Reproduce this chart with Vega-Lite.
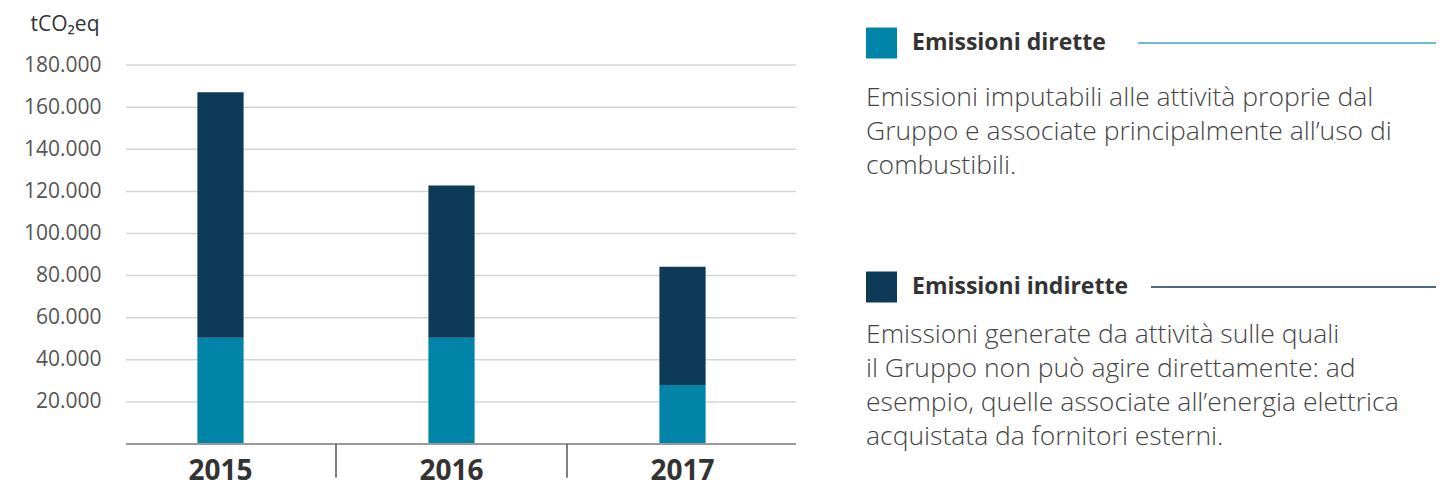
{
  "$schema": "https://vega.github.io/schema/vega-lite/v6.json",
  "padding": {"left": 23, "top": 13, "right": 0, "bottom": 0},
  "config": {
    "view": {"stroke": null},
    "font": "Open Sans",
    "text": {"font": "Open Sans"}
  },
  "datasets": {
    "bars": [
      {"year": "2015", "serie": "Emissioni dirette", "value": 50500},
      {"year": "2015", "serie": "Emissioni indirette", "value": 116600},
      {"year": "2016", "serie": "Emissioni dirette", "value": 50500},
      {"year": "2016", "serie": "Emissioni indirette", "value": 72300},
      {"year": "2017", "serie": "Emissioni dirette", "value": 28000},
      {"year": "2017", "serie": "Emissioni indirette", "value": 56200}
    ],
    "gridticks": [
      {"tick": 20000}, {"tick": 40000}, {"tick": 60000}, {"tick": 80000}, {"tick": 100000},
      {"tick": 120000}, {"tick": 140000}, {"tick": 160000}, {"tick": 180000}
    ],
    "legend": [
      {"serie": "Emissioni dirette", "desc": "Emissioni imputabili alle attività proprie dal\nGruppo e associate principalmente all’uso di\ncombustibili."},
      {"serie": "Emissioni indirette", "desc": "Emissioni generate da attività sulle quali\nil Gruppo non può agire direttamente: ad\nesempio, quelle associate all’energia elettrica\nacquistata da fornitori esterni."}
    ]
  },
  "hconcat": [
    {
      "width": 670,
      "height": 421,
      "layer": [
        {
          "data": {"name": "gridticks"},
          "mark": {"type": "rule", "color": "#d4d4d4", "strokeWidth": 1.5},
          "encoding": {
            "y": {"field": "tick", "type": "quantitative"}
          }
        },
        {
          "data": {"name": "bars"},
          "mark": {"type": "bar", "width": {"band": 0.2}},
          "encoding": {
            "x": {
              "field": "year", "type": "nominal",
              "scale": {"range": [-21, 672], "paddingInner": 0, "paddingOuter": 0},
              "axis": {
                "title": null, "domain": false, "ticks": false, "tickSize": 0, "grid": false,
                "labelAngle": 0, "labelFont": "Open Sans", "labelFontSize": 28, "labelFontWeight": "bold",
                "labelColor": "#333333", "labelPadding": 13
              }
            },
            "y": {
              "field": "value", "type": "quantitative", "stack": "zero",
              "scale": {"domain": [0, 200000], "nice": false, "zero": true},
              "axis": {
                "values": [20000, 40000, 60000, 80000, 100000, 120000, 140000, 160000, 180000],
                "labelExpr": "replace(format(datum.value, ',.0f'), ',', '.')",
                "domain": false, "ticks": false, "grid": false, "labelPadding": 25,
                "labelFont": "Open Sans", "labelFontSize": 21, "labelColor": "#555555",
                "title": "tCO₂eq", "titleAngle": 0, "titleAlign": "right", "titleBaseline": "alphabetic",
                "titleX": -27, "titleY": 7, "titleFont": "Open Sans", "titleFontSize": 21,
                "titleFontWeight": "normal", "titleColor": "#333333"
              }
            },
            "color": {
              "field": "serie", "type": "nominal",
              "scale": {"domain": ["Emissioni dirette", "Emissioni indirette"], "range": ["#0085A9", "#0C3A57"]},
              "legend": null
            },
            "order": {"field": "serie", "sort": "ascending"}
          }
        },
        {
          "data": {"name": "bars"},
          "mark": {"type": "rule", "color": "#9a9a9a", "strokeWidth": 1.5},
          "encoding": {"y": {"datum": 0}}
        },
        {
          "data": {"name": "bars"},
          "transform": [{"filter": "datum.serie === 'Emissioni dirette' && datum.year !== '2015'"}],
          "mark": {"type": "rule", "color": "#555555", "strokeWidth": 1.5},
          "encoding": {
            "x": {"field": "year", "type": "nominal", "bandPosition": 0},
            "y": {"datum": 0},
            "y2": {"datum": -16000}
          }
        }
      ]
    },
    {
      "width": 576,
      "height": 421,
      "data": {"name": "legend"},
      "encoding": {
        "y": {"field": "serie", "type": "nominal", "scale": {"type": "point", "range": [20, 264], "padding": 0}, "axis": null}
      },
      "layer": [
        {
          "mark": {"type": "square", "size": 961, "filled": true, "opacity": 1},
          "encoding": {
            "x": {"value": 15.5},
            "color": {"field": "serie", "type": "nominal", "legend": null}
          }
        },
        {
          "mark": {"type": "text", "align": "left", "baseline": "middle", "fontSize": 23, "fontWeight": "bold", "color": "#333333", "font": "Open Sans"},
          "encoding": {"x": {"value": 46}, "text": {"field": "serie"}}
        },
        {
          "transform": [{"filter": "datum.serie === 'Emissioni dirette'"}],
          "mark": {"type": "rule", "color": "#3fa6c6", "strokeWidth": 1.5},
          "encoding": {"x": {"value": 272}, "x2": {"value": 570}}
        },
        {
          "transform": [{"filter": "datum.serie === 'Emissioni indirette'"}],
          "mark": {"type": "rule", "color": "#0C3A57", "strokeWidth": 1.5},
          "encoding": {"x": {"value": 285}, "x2": {"value": 570}}
        },
        {
          "transform": [{"filter": "datum.serie === 'Emissioni dirette'"}],
          "mark": {"type": "text", "align": "left", "baseline": "alphabetic", "fontSize": 26.5, "fontWeight": 300, "color": "#444444", "font": "Open Sans", "lineBreak": "\n", "lineHeight": 34, "dy": 63},
          "encoding": {"x": {"value": 0}, "text": {"field": "desc"}}
        },
        {
          "transform": [{"filter": "datum.serie === 'Emissioni indirette'"}],
          "mark": {"type": "text", "align": "left", "baseline": "alphabetic", "fontSize": 26.5, "fontWeight": 300, "color": "#444444", "font": "Open Sans", "lineBreak": "\n", "lineHeight": 34, "dy": 56},
          "encoding": {"x": {"value": 0}, "text": {"field": "desc"}}
        }
      ]
    }
  ],
  "spacing": 47
}
